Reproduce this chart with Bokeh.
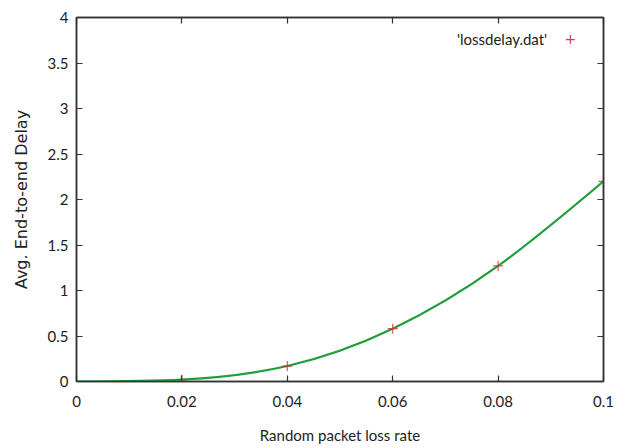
import numpy as np
from bokeh.plotting import figure
from bokeh.models import (Range1d, FixedTicker, LinearAxis, Label)
from bokeh.embed import file_html
from bokeh.resources import INLINE

# ---- data ----
loss_rate = [0.0, 0.02, 0.04, 0.06, 0.08, 0.10]
delay = [0.0, 0.02, 0.17, 0.58, 1.27, 2.20]
x_ticks = [0.0, 0.02, 0.04, 0.06, 0.08, 0.10]
x_tick_labels = ["0", "0.02", "0.04", "0.06", "0.08", "0.1"]
y_ticks = [0, 0.5, 1, 1.5, 2, 2.5, 3, 3.5, 4]
y_tick_labels = ["0", "0.5", "1", "1.5", "2", "2.5", "3", "3.5", "4"]
series_name = "'lossdelay.dat'"

TICK_FONT = "Lato"
AXIS_COL = "#333333"

p = figure(width=621, height=448, output_backend="svg", toolbar_location=None,
           x_range=Range1d(0, 0.1), y_range=Range1d(0, 4),
           min_border_left=76, min_border_right=18, min_border_top=17,
           min_border_bottom=67, x_axis_label="Random packet loss rate",
           y_axis_label="Avg. End-to-end Delay")
p.xgrid.visible = False
p.ygrid.visible = False
p.outline_line_color = AXIS_COL
p.outline_line_width = 1.5
p.background_fill_color = "white"
p.border_fill_color = "white"

def style_axis(ax, ticks, labels, show_labels=True):
    ax.ticker = FixedTicker(ticks=ticks)
    ax.major_label_overrides = {t: l for t, l in zip(ticks, labels)}
    ax.major_tick_in = 6
    ax.major_tick_out = 0
    ax.minor_tick_in = 0
    ax.minor_tick_out = 0
    ax.axis_line_color = AXIS_COL
    ax.axis_line_width = 1.5
    ax.major_tick_line_color = AXIS_COL
    ax.major_tick_line_width = 1.2
    ax.major_label_text_font = TICK_FONT
    ax.major_label_text_font_size = "15px"
    ax.major_label_text_color = "#222222"
    if not show_labels:
        ax.major_label_text_font_size = "0px"
        ax.major_label_text_alpha = 0

xa = p.xaxis[0]
ya = p.yaxis[0]
style_axis(xa, x_ticks, x_tick_labels)
style_axis(ya, y_ticks, y_tick_labels)
xa.major_label_standoff = 14
ya.major_label_standoff = 8
xa.axis_label_text_font = TICK_FONT
xa.axis_label_text_font_size = "15px"
xa.axis_label_text_font_style = "normal"
xa.axis_label_text_color = "#222222"
xa.axis_label_standoff = 16
ya.axis_label_text_font = "DejaVu Sans"
ya.axis_label_text_font_size = "16px"
ya.axis_label_text_font_style = "normal"
ya.axis_label_text_color = "#222222"
ya.axis_label_standoff = 14

top = LinearAxis()
right = LinearAxis()
style_axis(top, x_ticks, x_tick_labels, show_labels=False)
style_axis(right, y_ticks, y_tick_labels, show_labels=False)
p.add_layout(top, "above")
p.add_layout(right, "right")

# ---- smooth curve: natural cubic spline through the data, drawn as Bezier segments ----
x = np.array(loss_rate)
y = np.array(delay)
n = len(x)
h = np.diff(x)
A = np.zeros((n, n))
b = np.zeros(n)
A[0, 0] = 1
A[-1, -1] = 1
for i in range(1, n - 1):
    A[i, i - 1] = h[i - 1]
    A[i, i] = 2 * (h[i - 1] + h[i])
    A[i, i + 1] = h[i]
    b[i] = 6 * ((y[i + 1] - y[i]) / h[i] - (y[i] - y[i - 1]) / h[i - 1])
M = np.linalg.solve(A, b)
d0 = (y[1:] - y[:-1]) / h - h * (2 * M[:-1] + M[1:]) / 6
d1 = (y[1:] - y[:-1]) / h + h * (M[:-1] + 2 * M[1:]) / 6
p.bezier(x0=x[:-1], y0=y[:-1], x1=x[1:], y1=y[1:],
         cx0=x[:-1] + h / 3, cy0=y[:-1] + d0 * h / 3,
         cx1=x[1:] - h / 3, cy1=y[1:] - d1 * h / 3,
         line_color="#1f9e3a", line_width=2.2)

p.scatter(loss_rate, delay, marker="cross", size=10, line_color="#d0302c",
          line_width=1.2, line_alpha=0.8)

# ---- key (gnuplot style: text then sample) ----
p.add_layout(Label(x=0.0893, y=3.76, text=series_name, text_align="right",
                   text_baseline="middle", text_font=TICK_FONT,
                   text_font_size="15px", text_color="#222222"))
p.add_layout(Label(x=0.0937, y=3.76, text="+", text_align="center",
                   text_baseline="middle", text_font="DejaVu Sans",
                   text_font_size="14px", text_color="#e8304a"))

open("out.html", "w").write(file_html(p, INLINE))
